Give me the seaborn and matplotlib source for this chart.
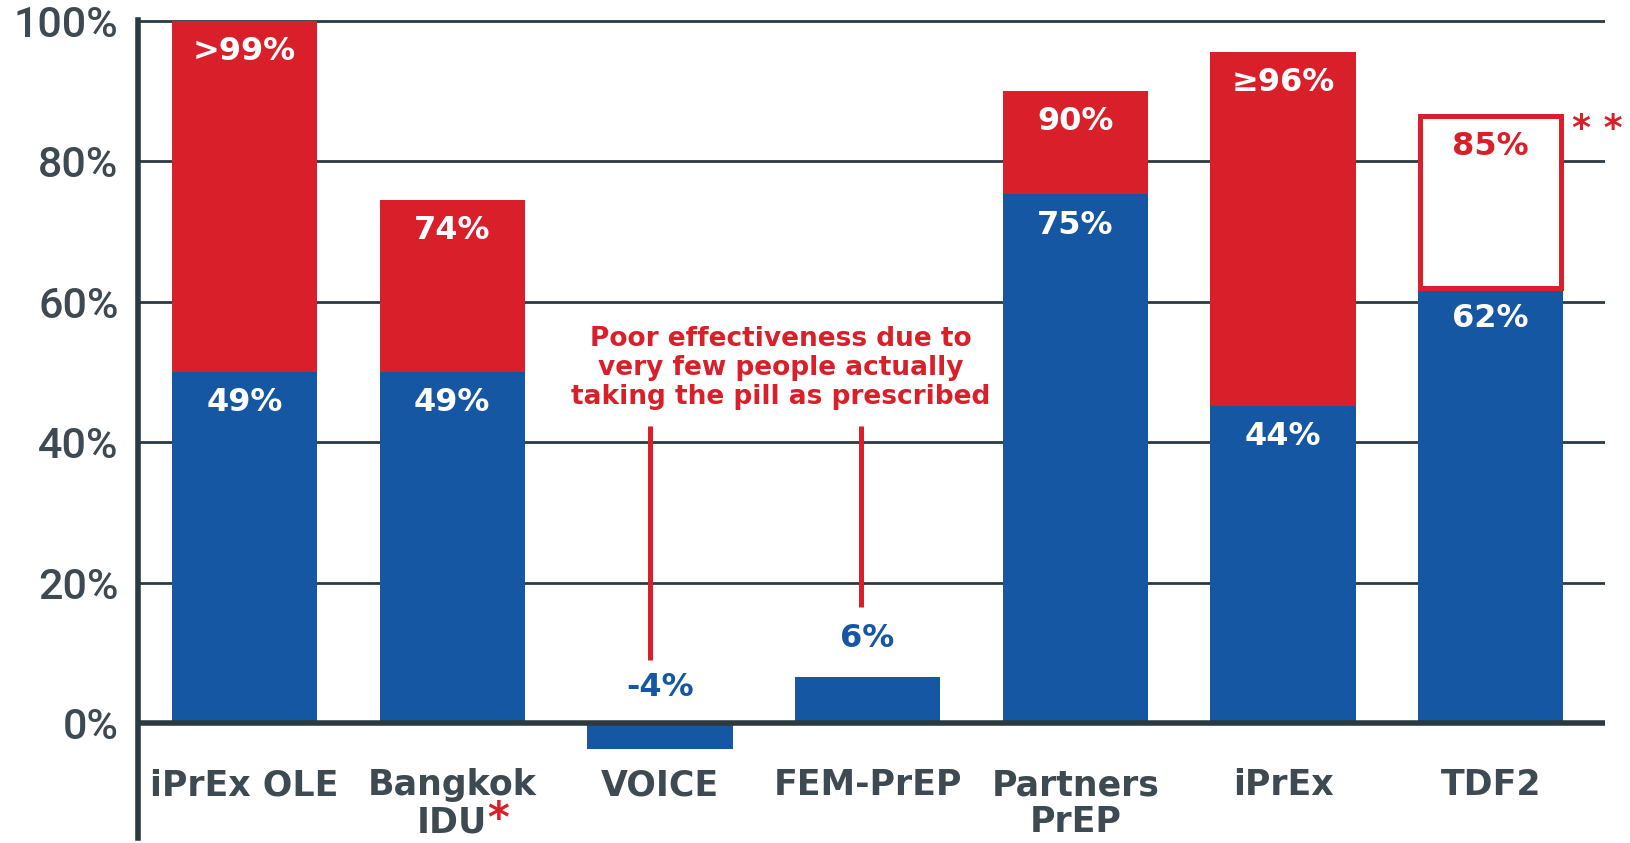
import numpy as np
import pandas as pd
import seaborn as sns
import matplotlib.pyplot as plt

# Style
sns.set_style("white")
plt.rcParams['font.family'] = ['DejaVu Sans']

# Data
studies = ["iPrEx OLE", "Bangkok IDU", "VOICE", "FEM-PrEP", "Partners PrEP", "iPrEx", "TDF2"]
cat_lines = [["iPrEx OLE"], ["Bangkok", "IDU"], ["VOICE"], ["FEM-PrEP"], ["Partners", "PrEP"], ["iPrEx"], ["TDF2"]]
blue_vals = [50, 50, -3.7, 6.5, 75.3, 45.2, 62]
top_vals = [100, 74.5, 0, 0, 90.1, 95.6, 86.5]
blue_labels = ["49%", "49%", "-4%", "6%", "75%", "44%", "62%"]
top_labels = [">99%", "74%", "", "", "90%", "\u226596%", "85%"]
yticks = [0, 20, 40, 60, 80, 100]
note = "Poor effectiveness due to\nvery few people actually\ntaking the pill as prescribed"

BLUE = "#1657a4"
RED = "#d9202a"
DARK = "#2b3a40"
GREY = "#3e4a51"

df = pd.DataFrame({"study": studies, "blue": blue_vals, "top": top_vals})

fig = plt.figure(figsize=(16.31, 8.43), dpi=100)
ax = fig.add_axes([0.0846, 0.0058, 0.8994, 0.9709])

# red (upper) segments first, then blue over them
sns.barplot(data=df, x="study", y="top", color=RED, saturation=1, width=0.7,
            order=studies, ax=ax, zorder=2, linewidth=0, edgecolor="none")
sns.barplot(data=df, x="study", y="blue", color=BLUE, saturation=1, width=0.7,
            order=studies, ax=ax, zorder=2, linewidth=0, edgecolor="none")

# TDF2 upper part is an outlined box
box = ax.patches[6]
lw_x = 5 / 207.7
box.set_y(blue_vals[6])
box.set_height(top_vals[6] - blue_vals[6])
box.set_x(box.get_x() + lw_x / 2)
box.set_width(box.get_width() - lw_x)
box.set_facecolor("white")
box.set_edgecolor(RED)
box.set_linewidth(3.6)
box.set_zorder(4)

ax.set_xlim(-0.513, 6.55)
ax.set_ylim(-16.4, 100.2)
ax.set_yticks(yticks)
ax.set_yticklabels([f"{t}%" for t in yticks], family="Roboto", fontweight="medium",
                   fontsize=31, color=GREY)
ax.tick_params(axis="y", length=0, pad=14)
ax.set_xticks([])
ax.set_xlabel("")
ax.set_ylabel("")

ax.yaxis.grid(True, color=DARK, lw=2)
ax.set_axisbelow(True)
ax.axhline(0, color=DARK, lw=4, zorder=5)
for s in ["top", "right", "bottom"]:
    ax.spines[s].set_visible(False)
ax.spines["left"].set_color(DARK)
ax.spines["left"].set_linewidth(4)

# segment labels
off = 4.4
for i in range(len(studies)):
    if top_labels[i]:
        col = RED if i == 6 else "white"
        ax.text(i, top_vals[i] - off, top_labels[i], ha="center", va="center",
                fontsize=23, fontweight="bold", color=col, zorder=6)
    if blue_vals[i] > 20:
        ax.text(i, blue_vals[i] - off, blue_labels[i], ha="center", va="center",
                fontsize=23, fontweight="bold", color="white", zorder=6)
ax.text(2, 5.0, blue_labels[2], ha="center", va="center", fontsize=23,
        fontweight="bold", color=BLUE)
ax.text(3, 12.1, blue_labels[3], ha="center", va="center", fontsize=23,
        fontweight="bold", color=BLUE)

ax.text(6.515, 84.6, "* *", ha="center", va="center", fontsize=26,
        fontweight="bold", color=RED, clip_on=False)

# category labels
for i, lines in enumerate(cat_lines):
    for j, line in enumerate(lines):
        ax.text(i, -10.3 - 5.3 * j, line, ha="center", va="baseline", fontsize=25,
                fontweight="bold", color=GREY, clip_on=False)
ax.text(1.17, -15.6, "*", ha="left", va="baseline", fontsize=30,
        fontweight="bold", color=RED, clip_on=False)

# annotation for VOICE / FEM-PrEP
ax.text(2.58, 50.6, note, ha="center", va="center", multialignment="center",
        fontsize=19, fontweight="bold", color=RED, linespacing=1.15)
ax.plot([1.95, 1.95], [9.0, 42.3], color=RED, lw=3.6, solid_capstyle="butt")
ax.plot([2.97, 2.97], [16.5, 42.3], color=RED, lw=3.6, solid_capstyle="butt")

plt.savefig("out.png", dpi=100)
